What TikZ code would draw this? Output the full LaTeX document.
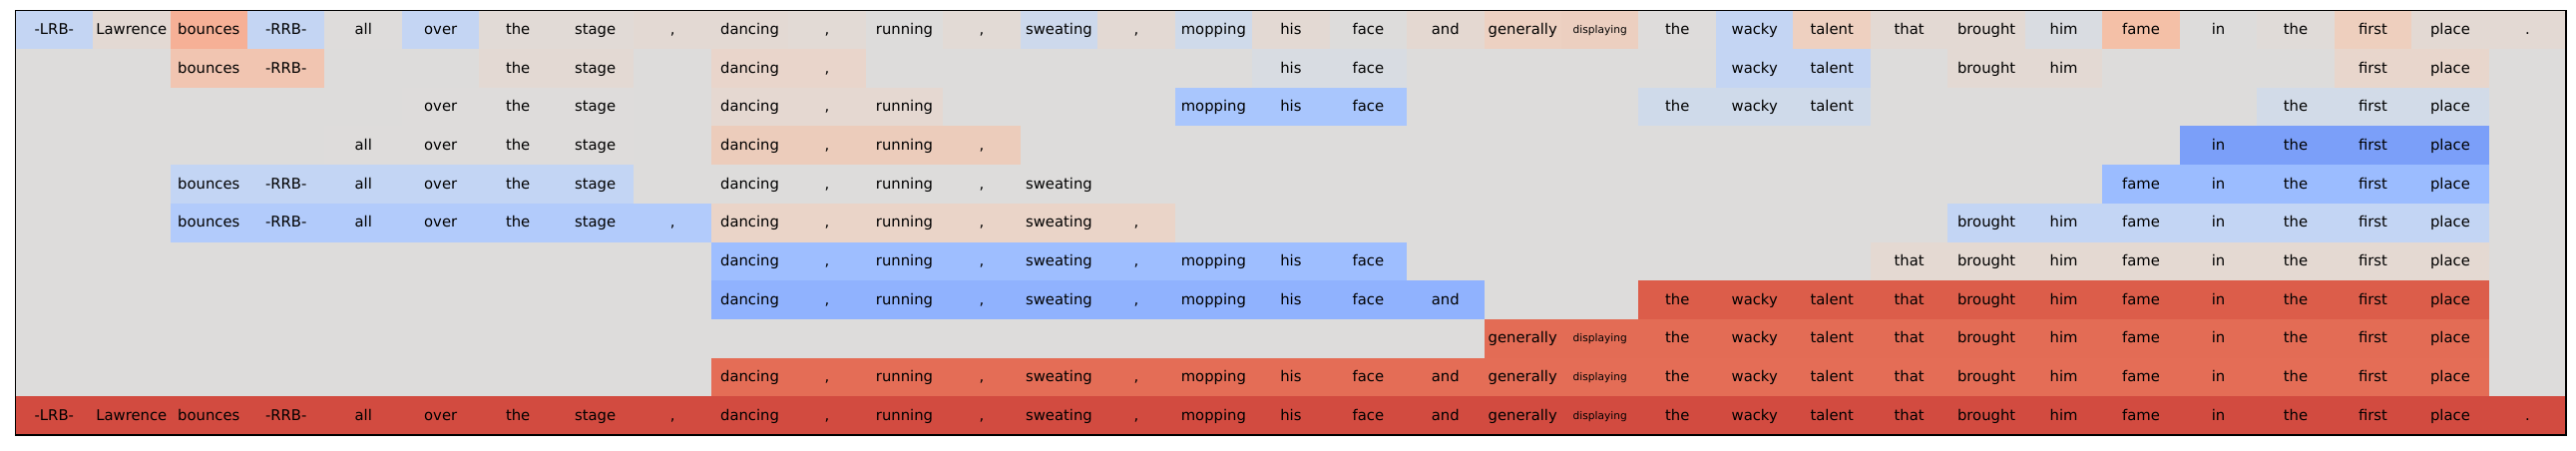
\documentclass[tikz,border=0pt]{standalone}
\usepackage{fontspec}
\setmainfont{DejaVu Sans}
\begin{document}
\begin{tikzpicture}[x=1pt,y=1pt]
\tikzset{
  tok/.style={inner sep=0pt, anchor=base, text=black, font=\fontsize{14.8}{16}\selectfont},
  grid border/.style={draw=black, line width=1.3pt}
}
\definecolor{bgc}{HTML}{DDDCDB}
\useasboundingbox (0,0) rectangle (2582,451);
\fill[white] (0,0) rectangle (2582,451);
\def\xo{15.6}\def\cw{77.47}\def\yt{440.7}\def\rh{38.7}
\def\LB{C4D5F3}\def\BG{E3D9D3}\def\GR{DEDCDB}\def\BC{DDDCDB}
\expandafter\def\csname tk0\endcsname{-LRB-}
\expandafter\def\csname tk1\endcsname{Lawrence}
\expandafter\def\csname tk2\endcsname{bounces}
\expandafter\def\csname tk3\endcsname{-RRB-}
\expandafter\def\csname tk4\endcsname{all}
\expandafter\def\csname tk5\endcsname{over}
\expandafter\def\csname tk6\endcsname{the}
\expandafter\def\csname tk7\endcsname{stage}
\expandafter\def\csname tk8\endcsname{,}
\expandafter\def\csname tk9\endcsname{dancing}
\expandafter\def\csname tk10\endcsname{,}
\expandafter\def\csname tk11\endcsname{running}
\expandafter\def\csname tk12\endcsname{,}
\expandafter\def\csname tk13\endcsname{sweating}
\expandafter\def\csname tk14\endcsname{,}
\expandafter\def\csname tk15\endcsname{mopping}
\expandafter\def\csname tk16\endcsname{his}
\expandafter\def\csname tk17\endcsname{face}
\expandafter\def\csname tk18\endcsname{and}
\expandafter\def\csname tk19\endcsname{generally}
\expandafter\def\csname tk20\endcsname{\raisebox{1.2pt}{\fontsize{10.6}{12}\selectfont displaying}}
\expandafter\def\csname tk21\endcsname{the}
\expandafter\def\csname tk22\endcsname{wacky}
\expandafter\def\csname tk23\endcsname{talent}
\expandafter\def\csname tk24\endcsname{that}
\expandafter\def\csname tk25\endcsname{brought}
\expandafter\def\csname tk26\endcsname{him}
\expandafter\def\csname tk27\endcsname{fame}
\expandafter\def\csname tk28\endcsname{in}
\expandafter\def\csname tk29\endcsname{the}
\expandafter\def\csname tk30\endcsname{first}
\expandafter\def\csname tk31\endcsname{place}
\expandafter\def\csname tk32\endcsname{.}
\newcommand\segrun[4]{%
  \definecolor{segc}{HTML}{#4}%
  \fill[segc] ({\xo+#2*\cw},{\yt-#1*\rh}) rectangle ({\xo+(#3+1)*\cw},{\yt-(#1+1)*\rh});
  \foreach \c in {#2,...,#3}{%
    \node[tok] (r#1c\c) at ({\xo+(\c+0.5)*\cw},{\yt-(#1+0.5)*\rh-4.7}) {\csname tk\c\endcsname};
  }%
}
% background
\fill[bgc] (\xo,{\yt-11*\rh}) rectangle ({\xo+33*\cw},\yt);
% row 0
\segrun{0}{0}{0}{\LB}
\segrun{0}{1}{1}{\BG}
\segrun{0}{2}{2}{F6B096}
\segrun{0}{3}{3}{\LB}
\segrun{0}{4}{4}{\GR}
\segrun{0}{5}{5}{\LB}
\segrun{0}{6}{7}{E1DAD6}
\segrun{0}{8}{8}{\BG}
\segrun{0}{9}{9}{\BG}
\segrun{0}{10}{10}{E2DAD5}
\segrun{0}{11}{11}{\BC}
\segrun{0}{12}{12}{E2DAD5}
\segrun{0}{13}{13}{CDD9EC}
\segrun{0}{14}{14}{\BG}
\segrun{0}{15}{15}{CFDAEA}
\segrun{0}{16}{16}{\BG}
\segrun{0}{17}{17}{\BC}
\segrun{0}{18}{18}{E4D8D1}
\segrun{0}{19}{19}{EDD1C2}
\segrun{0}{20}{20}{ECCFC0}
\segrun{0}{21}{21}{\GR}
\segrun{0}{22}{22}{\LB}
\segrun{0}{23}{23}{EED0C0}
\segrun{0}{24}{24}{\BG}
\segrun{0}{25}{25}{\BG}
\segrun{0}{26}{26}{D9DCE1}
\segrun{0}{27}{27}{F4C0A7}
\segrun{0}{28}{28}{\BC}
\segrun{0}{29}{29}{E0DBD8}
\segrun{0}{30}{30}{EECFBE}
\segrun{0}{31}{31}{\BG}
\segrun{0}{32}{32}{\BG}
% row 1
\segrun{1}{2}{3}{F1C5B1}
\segrun{1}{6}{7}{\BG}
\segrun{1}{9}{10}{E9D5CB}
\segrun{1}{16}{17}{D8DCE2}
\segrun{1}{22}{23}{\LB}
\segrun{1}{25}{26}{\BG}
\segrun{1}{30}{31}{E8D6CC}
% row 2
\segrun{2}{5}{7}{\GR}
\segrun{2}{9}{11}{E5D8D1}
\segrun{2}{15}{17}{A9C6FD}
\segrun{2}{21}{23}{CFDAEA}
\segrun{2}{29}{31}{D2DBE8}
% row 3
\segrun{3}{4}{7}{\GR}
\segrun{3}{9}{12}{ECCCBB}
\segrun{3}{28}{31}{7B9FF9}
% row 4
\segrun{4}{2}{7}{C3D5F4}
\segrun{4}{9}{13}{\BC}
\segrun{4}{27}{31}{9BBCFF}
% row 5
\segrun{5}{2}{8}{B2CBFB}
\segrun{5}{9}{14}{EAD4C8}
\segrun{5}{25}{31}{C3D5F4}
% row 6
\segrun{6}{9}{17}{9EBEFF}
\segrun{6}{24}{31}{E4D9D2}
% row 7
\segrun{7}{9}{18}{90B2FE}
\segrun{7}{21}{31}{DC5D4A}
% row 8
\segrun{8}{19}{31}{E36C55}
% row 9
\segrun{9}{9}{31}{E46D56}
% row 10
\segrun{10}{0}{32}{D24B40}
% border
\draw[grid border] (\xo,{\yt-11*\rh}) rectangle ({\xo+33*\cw},\yt);
\end{tikzpicture}
\end{document}
